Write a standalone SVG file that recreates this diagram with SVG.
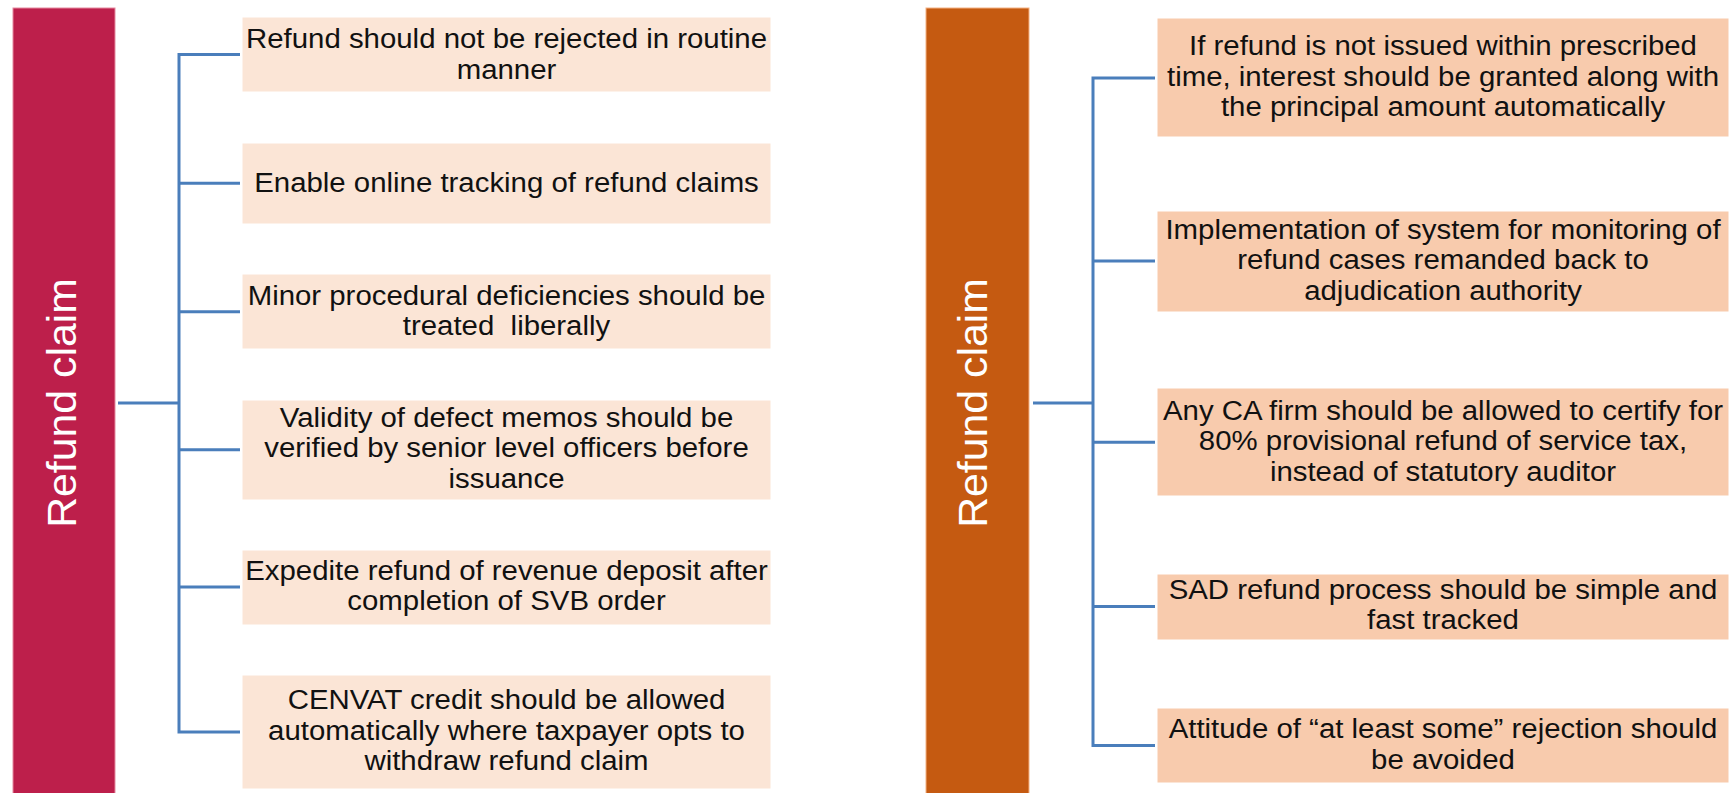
<svg xmlns="http://www.w3.org/2000/svg" width="1732" height="793" viewBox="0 0 1732 793">
  <style>
    .bar-red { fill: #BD1F4B; stroke: #E58AA0; stroke-width: 1; }
    .bar-orange { fill: #C55A11; stroke: #F4B183; stroke-width: 1; }
    .box-light { fill: #FBE5D6; stroke: #FFFFFF; stroke-width: 1; }
    .box-mid { fill: #F8CBAD; stroke: #FFFFFF; stroke-width: 1; }
    .bar-label { font-family: "Liberation Sans", Arial, sans-serif; font-size: 40px; fill: #FFFFFF; text-anchor: middle; }
    .item { font-family: "Liberation Sans", Arial, sans-serif; font-size: 28px; fill: #111111; text-anchor: middle; }
    .link { fill: none; stroke: #4A7EBB; stroke-width: 3; stroke-linecap: butt; stroke-linejoin: miter; }
  </style>
  <rect width="1732" height="793" fill="#FFFFFF"/>

  <!-- left column -->
  <g id="left-root">
    <rect class="bar-red" x="13" y="8" width="102" height="790"/>
    <text class="bar-label" transform="translate(76,403) rotate(-90) scale(1.07,1)" x="0" y="0">Refund claim</text>
  </g>

  <g id="left-item-1">
    <rect class="box-light" x="242" y="17" width="529" height="75"/>
    <text class="item" transform="matrix(1.05 0 0 1 506.5 0)"><tspan x="0" y="48.5">Refund should not be rejected in routine</tspan><tspan x="0" y="79">manner</tspan></text>
  </g>
  <g id="left-item-2">
    <rect class="box-light" x="242" y="143" width="529" height="81"/>
    <text class="item" transform="matrix(1.05 0 0 1 506.5 0)"><tspan x="0" y="191.7">Enable online tracking of refund claims</tspan></text>
  </g>
  <g id="left-item-3">
    <rect class="box-light" x="242" y="274" width="529" height="75"/>
    <text class="item" xml:space="preserve" transform="matrix(1.05 0 0 1 506.5 0)"><tspan x="0" y="305">Minor procedural deficiencies should be</tspan><tspan x="0" y="335.5">treated  liberally</tspan></text>
  </g>
  <g id="left-item-4">
    <rect class="box-light" x="242" y="400" width="529" height="100"/>
    <text class="item" transform="matrix(1.05 0 0 1 506.5 0)"><tspan x="0" y="427">Validity of defect memos should be</tspan><tspan x="0" y="457.5">verified by senior level officers before</tspan><tspan x="0" y="488">issuance</tspan></text>
  </g>
  <g id="left-item-5">
    <rect class="box-light" x="242" y="550" width="529" height="75"/>
    <text class="item" transform="matrix(1.05 0 0 1 506.5 0)"><tspan x="0" y="580">Expedite refund of revenue deposit after</tspan><tspan x="0" y="610.5">completion of SVB order</tspan></text>
  </g>
  <g id="left-item-6">
    <rect class="box-light" x="242" y="675" width="529" height="114"/>
    <text class="item" transform="matrix(1.05 0 0 1 506.5 0)"><tspan x="0" y="709.5">CENVAT credit should be allowed</tspan><tspan x="0" y="740">automatically where taxpayer opts to</tspan><tspan x="0" y="770.5">withdraw refund claim</tspan></text>
  </g>

  <!-- right column -->
  <g id="right-root">
    <rect class="bar-orange" x="926" y="8" width="103" height="790"/>
    <text class="bar-label" transform="translate(987,403) rotate(-90) scale(1.07,1)" x="0" y="0">Refund claim</text>
  </g>

  <g id="right-item-1">
    <rect class="box-mid" x="1157" y="18" width="572" height="119"/>
    <text class="item" transform="matrix(1.05 0 0 1 1443 0)"><tspan x="0" y="55.5">If refund is not issued within prescribed</tspan><tspan x="0" y="86">time, interest should be granted along with</tspan><tspan x="0" y="116.5">the principal amount automatically</tspan></text>
  </g>
  <g id="right-item-2">
    <rect class="box-mid" x="1157" y="211" width="572" height="101"/>
    <text class="item" transform="matrix(1.05 0 0 1 1443 0)"><tspan x="0" y="238.7">Implementation of system for monitoring of</tspan><tspan x="0" y="269.2">refund cases remanded back to</tspan><tspan x="0" y="299.7">adjudication authority</tspan></text>
  </g>
  <g id="right-item-3">
    <rect class="box-mid" x="1157" y="388" width="572" height="108"/>
    <text class="item" transform="matrix(1.05 0 0 1 1443 0)"><tspan x="0" y="420">Any CA firm should be allowed to certify for</tspan><tspan x="0" y="450.5">80% provisional refund of service tax,</tspan><tspan x="0" y="481">instead of statutory auditor</tspan></text>
  </g>
  <g id="right-item-4">
    <rect class="box-mid" x="1157" y="574" width="572" height="66"/>
    <text class="item" transform="matrix(1.05 0 0 1 1443 0)"><tspan x="0" y="599">SAD refund process should be simple and</tspan><tspan x="0" y="629.5">fast tracked</tspan></text>
  </g>
  <g id="right-item-5">
    <rect class="box-mid" x="1157" y="708" width="572" height="75"/>
    <text class="item" transform="matrix(1.05 0 0 1 1443 0)"><tspan x="0" y="738.5">Attitude of “at least some” rejection should</tspan><tspan x="0" y="769">be avoided</tspan></text>
  </g>

  <!-- connectors -->
  <g id="connectors">
    <path class="link" d="M118,403 H179"/>
    <path class="link" d="M240,54.5 H179 V732 H240"/>
    <path class="link" d="M179,183.3 H240"/>
    <path class="link" d="M179,311.8 H240"/>
    <path class="link" d="M179,449.7 H240"/>
    <path class="link" d="M179,587 H240"/>

    <path class="link" d="M1033,403 H1093"/>
    <path class="link" d="M1155,78 H1093 V745.5 H1155"/>
    <path class="link" d="M1093,261 H1155"/>
    <path class="link" d="M1093,442.3 H1155"/>
    <path class="link" d="M1093,606.5 H1155"/>
  </g>
</svg>
